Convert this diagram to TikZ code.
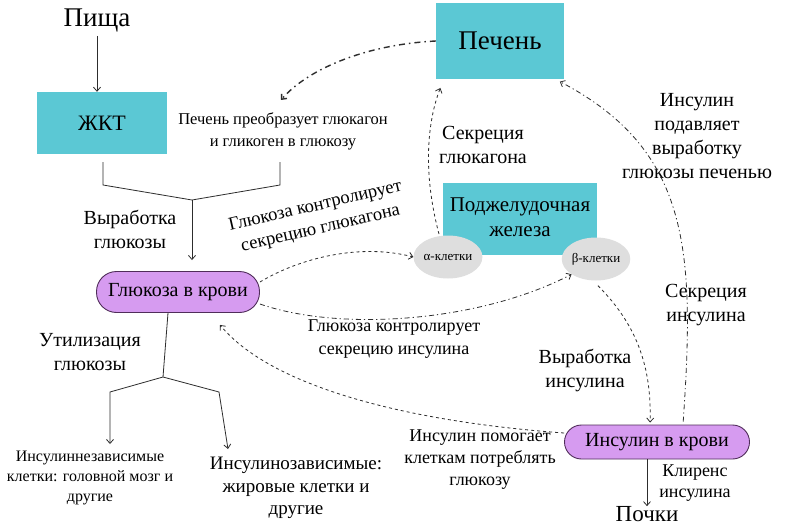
\documentclass[tikz,border=0pt]{standalone}
\usepackage{fontspec}
\setmainfont{Liberation Serif}
\newfontfamily\serfont{Liberation Serif}
\usetikzlibrary{arrows.meta,shapes.geometric}
\definecolor{boxcyan}{RGB}{91,200,212}
\definecolor{pillviolet}{RGB}{214,155,240}
\definecolor{pillborder}{RGB}{80,45,90}
\definecolor{cellgray}{RGB}{222,222,222}
\definecolor{linegray}{RGB}{45,45,45}
\newcommand\fsz[2]{\serfont\fontsize{#1}{#2}\selectfont}
\begin{document}
\begin{tikzpicture}[x=1pt,y=-1pt,
  organ/.style={fill=boxcyan, inner sep=0pt, align=center, text=black},
  pill/.style={fill=pillviolet, draw=pillborder, line width=0.9pt, rounded corners=17pt, inner sep=0pt,
    font=\fsz{20}{24}},
  cell/.style={ellipse, fill=cellgray, minimum width=67pt, minimum height=43pt, inner sep=0pt,
    font=\fsz{13}{15}},
  lbl/.style={align=center, inner sep=0pt, font=\fsz{20}{24}},
  ln/.style={draw=linegray, line width=0.8pt},
  arr/.style={ln, -{Straight Barb[length=4pt,width=7pt]}},
  dsh/.style={dash pattern=on 3pt off 3pt},
  dshdot/.style={dash pattern=on 5pt off 3pt on 1.2pt off 3pt}]
\useasboundingbox (0,0) rectangle (793,527);
\fill[white] (0,0) rectangle (793,527);

% organs
\node[organ, minimum width=130pt, minimum height=62pt, font=\fsz{22}{26}] (gi) at (102,123) {ЖКТ};
\node[organ, minimum width=128pt, minimum height=76pt, font=\fsz{27}{30}] (liver) at (500,41) {Печень};
\node[organ, minimum width=154pt, minimum height=72pt, font=\fsz{21}{25}] (panc) at (520,219) {\raisebox{-5pt}{\begin{tabular}{@{}c@{}}Поджелудочная\\железа\end{tabular}}};
\node[cell] (alpha) at (448,257) {α-клетки};
\node[cell] (beta) at (596,259) {β-клетки};
\node[pill, minimum width=163pt, minimum height=41pt, rounded corners=20pt] (bg) at (178,292) {Глюкоза в крови};
\node[pill, minimum width=185pt, minimum height=34pt] (bi) at (657,442) {Инсулин в крови};

% plain texts
\node[lbl, font=\fsz{27}{30}] (food) at (97,20) {Пища};
\node[lbl, font=\fsz{23}{26}] (kid) at (647,514) {Почки};
\node[lbl, font=\fsz{16.5}{22}] (conv) at (283,131) {Печень преобразует глюкагон\\и гликоген в глюкозу};
\node[lbl] (prod) at (130,229) {Выработка\\глюкозы};
\node[lbl] (util) at (90,352) {Утилизация\\глюкозы};
\node[lbl, font=\fsz{16}{20}] (indep) at (90,478) {Инсулиннезависимые\\клетки: головной мозг и\\другие};
\node[lbl, font=\fsz{19}{22.5}] (dep) at (296,488) {Инсулинозависимые:\\жировые клетки и\\другие};
\node[lbl] (secg) at (483,145) {Секреция\\глюкагона};
\node[lbl] (supp) at (697,136) {Инсулин\\подавляет\\выработку\\глюкозы печенью};
\node[lbl] (seci) at (706,305) {Секреция\\инсулина};
\node[lbl] (prodi) at (585,370) {Выработка\\инсулина};
\node[lbl, font=\fsz{18.5}{23}, rotate=13] (ctrlg) at (318,218) {Глюкоза контролирует\\секрецию глюкагона};
\node[lbl, font=\fsz{18}{23}] (ctrli) at (394,339) {Глюкоза контролирует\\секрецию инсулина};
\node[lbl, font=\fsz{18}{22}] (help) at (480,460) {Инсулин помогает\\клеткам потреблять\\глюкозу};
\node[lbl, font=\fsz{18}{21}] (clr) at (695,483) {Клиренс\\инсулина};

% solid connectors
\draw[arr, shorten <=4pt] (food) -- (food |- gi.north);
\coordinate (bl) at (103,162);
\coordinate (blc) at (103,185);
\coordinate (bj) at (192,200);
\coordinate (brc) at (280,185);
\coordinate (br) at (280,162);
\draw[ln] (bl) -- (blc) -- (bj) -- (brc) -- (br);
\draw[arr, shorten >=11pt] (bj) -- (bj |- bg.north);
\coordinate (uj) at (163,377);
\coordinate (ul) at (110,392);
\coordinate (ur) at (219,392);
\coordinate (ule) at (110,444);
\coordinate (ure) at (228,449);
\draw[ln] ([xshift=-10pt]bg.south) -- (uj);
\draw[arr] (uj) -- (ul) -- (ule);
\draw[arr] (uj) -- (ur) -- (ure);
\draw[arr] (bi.south -| kid.north) -- (kid.north);

% dashed / dash-dot connectors
\coordinate (convtip) at (281,100);
\draw[arr, line width=1.4pt, dash pattern=on 6pt off 4pt on 1.5pt off 4pt] (liver.west) .. controls (360,45) and (305,72) .. (convtip);
\draw[arr, dsh, shorten <=2pt, shorten >=4pt] (alpha.112) .. controls (422,170) and (428,120) .. ([xshift=6pt,yshift=-5pt]liver.south west);
\draw[arr, dsh] ([yshift=10pt]bg.east) .. controls (300,258) and (360,243) .. (alpha.west);
\draw[arr, dshdot] ([yshift=-12pt]bg.east) .. controls (340,332) and (480,322) .. (beta.212);
\draw[arr, dsh] ([yshift=9pt]bi.west) .. controls (400,421) and (270,385) .. ([xshift=42pt,yshift=-12pt]bg.south);
\draw[arr, dsh, shorten <=7pt, shorten >=2pt] ([xshift=-3pt]beta.south) .. controls (632,320) and (652,360) .. ([xshift=-7pt]bi.north);
\draw[arr, dshdot, shorten <=3pt, shorten >=3pt] ([xshift=26pt]bi.north) .. controls (695,250) and (690,150) .. ([xshift=-7pt,yshift=-1pt]liver.south east);
\end{tikzpicture}
\end{document}
